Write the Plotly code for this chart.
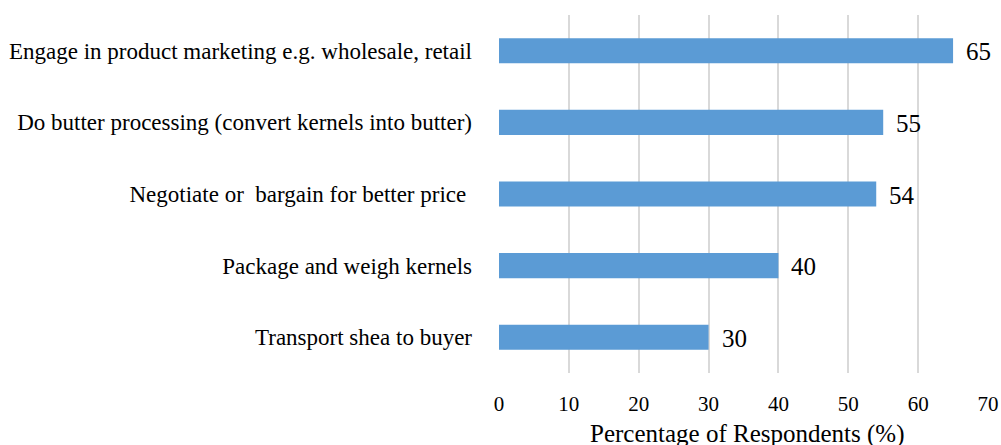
import plotly.graph_objects as go

categories = [
    "Transport shea to buyer",
    "Package and weigh kernels",
    "Negotiate or  bargain for better price ",
    "Do butter processing (convert kernels into butter)",
    "Engage in product marketing e.g. wholesale, retail",
]
values = [30, 40, 54, 55, 65]
x_ticks = [0, 10, 20, 30, 40, 50, 60, 70]
x_title = "Percentage of Respondents (%)"

FONT = "Liberation Serif, Times New Roman, serif"

fig = go.Figure(go.Bar(
    y=categories, x=values, orientation="h",
    marker=dict(color="#5B9BD5", line=dict(width=0)),
    hoverinfo="x+y",
))

for c, v in zip(categories, values):
    fig.add_annotation(
        x=v, y=c, xref="x", yref="y", text=str(v), showarrow=False,
        xanchor="left", yanchor="middle", xshift=11, yshift=-1,
        font=dict(family=FONT, size=25, color="#000000"),
    )

fig.add_annotation(
    x=0.5, y=0, xref="paper", yref="paper", text=x_title, showarrow=False,
    xanchor="center", yanchor="middle", xshift=3, yshift=-61,
    font=dict(family=FONT, size=25, color="#000000"),
)

fig.update_layout(
    width=1001, height=445,
    margin=dict(l=499, r=13, t=15, b=72, autoexpand=False),
    paper_bgcolor="white", plot_bgcolor="white",
    bargap=0.65,
    showlegend=False,
    font=dict(family=FONT, color="#000000"),
    xaxis=dict(
        range=[0, 70], tickvals=x_ticks, showgrid=True,
        gridcolor="#D9D9D9", gridwidth=2, zeroline=False,
        showline=False, ticks="", tickfont=dict(family=FONT, size=21),
        ticklabelstandoff=16, automargin=False,
    ),
    yaxis=dict(
        showgrid=False, zeroline=False, showline=False, ticks="",
        tickfont=dict(family=FONT, size=23), ticklabelstandoff=26,
        automargin=False,
    ),
)

fig.write_html("out.html")
